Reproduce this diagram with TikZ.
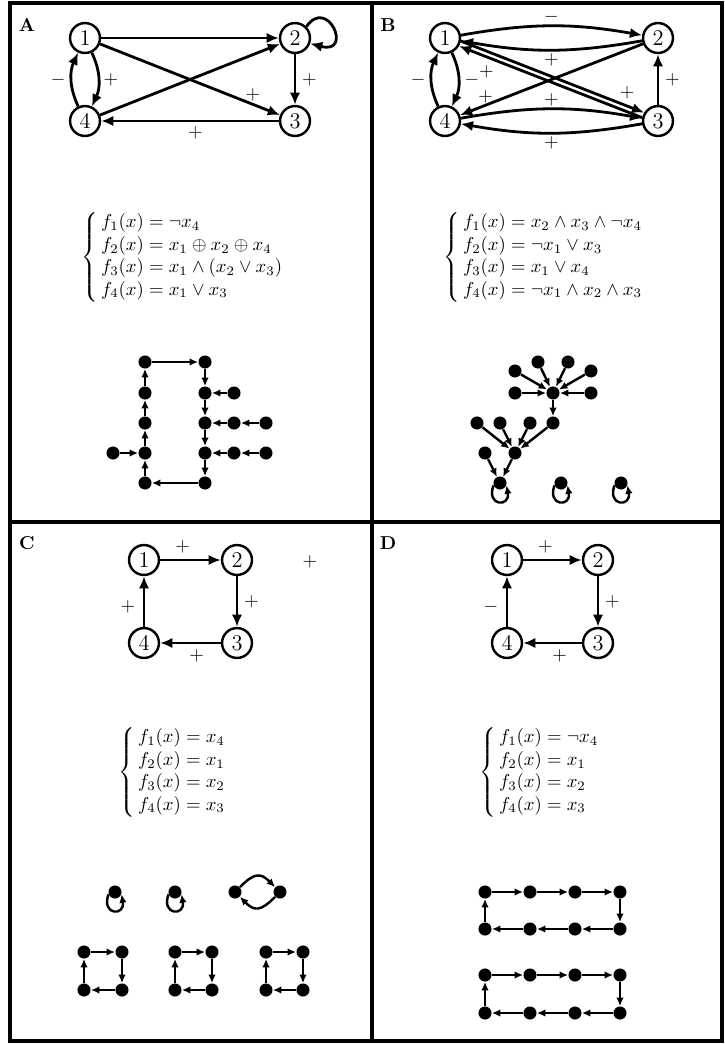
\documentclass[tikz,border=0pt]{standalone}
\usepackage{amsmath}
\usetikzlibrary{arrows.meta}
\tikzset{
 vnode/.style={circle, draw, line width=1.3pt, minimum size=16pt, inner sep=0pt, font=\large},
 gedge/.style={line width=1.5pt, -{Latex[length=6.5pt,width=5.5pt]}},
 lab/.style={inner sep=1pt, font=\normalsize},
 dot/.style={circle, fill, inner sep=0pt, minimum size=7pt},
 sedge/.style={line width=1.3pt, -{Latex[length=4.5pt,width=4pt]}},
 frame/.style={line width=1.7pt},
 eqn/.style={inner sep=0pt, anchor=west},
 plabel/.style={font=\bfseries, inner sep=0pt}
}
\begin{document}
\begin{tikzpicture}[x=0.535pt,y=0.535pt]
\useasboundingbox (0,0) rectangle (725,-1044);
% frame
\draw[frame] (10,-3) rectangle (722,-1041);
\draw[frame] (372,-3) -- (372,-1041);
\draw[frame] (10,-522) -- (722,-522);
% panel labels
\node[plabel] (pA) at (27,-25) {A};
\node[plabel] (pB) at (388,-25) {B};
\node[plabel] (pC) at (27,-543) {C};
\node[plabel] (pD) at (388,-543) {D};

% ---------- A ----------
\node[vnode] (a1) at (85,-38) {1};
\node[vnode] (a2) at (295,-38) {2};
\node[vnode] (a3) at (295,-121) {3};
\node[vnode] (a4) at (85,-121) {4};
\draw[gedge] (a1) -- (a2);
\draw[gedge] (a4) -- (a2);
\draw[gedge] (a1) -- (a3) node[lab,pos=0.85,above] {$+$};
\draw[gedge] (a2) -- (a3) node[lab,pos=0.5,right=2pt] {$+$};
\draw[gedge] (a3) -- (a4) node[lab,pos=0.47,below=1.5pt] {$+$};
\draw[gedge] (a1) to[bend left=25] node[lab,right=1pt] {$+$} (a4);
\draw[gedge] (a4) to[bend left=25] node[lab,left=1.5pt] {$-$} (a1);
\draw[gedge] (a2.45) .. controls +(55:20pt) and +(-15:24pt) .. (a2.-20);

\node[eqn] (eA) at (81,-257) {$\left\{\begin{array}{@{\,}l@{}}
 f_1(x) = \neg x_4\\
 f_2(x) = x_1 \oplus x_2 \oplus x_4\\
 f_3(x) = x_1 \wedge (x_2 \vee x_3)\\
 f_4(x) = x_1 \vee x_3
 \end{array}\right.$};

\foreach \n/\x/\y in {la1/145/362, la2/145/393, la3/145/423, la4/145/453, la5/145/483,
  ra1/205/362, ra2/205/393, ra3/205/423, ra4/205/453, ra5/205/483,
  xa1/113/453, xa2/234/393, xa3/234/423, xa4/266/423, xa5/234/453, xa6/266/453}
  \node[dot] (\n) at (\x,-\y) {};
\foreach \s/\t in {la1/ra1, ra1/ra2, ra2/ra3, ra3/ra4, ra4/ra5, ra5/la5, la5/la4, la4/la3,
  la3/la2, la2/la1, xa1/la4, xa2/ra2, xa3/ra3, xa4/xa3, xa5/ra4, xa6/xa5}
  \draw[sedge] (\s) -- (\t);

% ---------- B ----------
\node[vnode] (b1) at (445,-38) {1};
\node[vnode] (b2) at (658,-38) {2};
\node[vnode] (b3) at (658,-121) {3};
\node[vnode] (b4) at (445,-121) {4};
\draw[gedge] (b1) to[bend left=10] node[lab,above] {$-$} (b2);
\draw[gedge] (b2) to[bend left=10] node[lab,below] {$+$} (b1);
\draw[gedge] (b1.-11.7) -- (b3.149.1) node[lab,pos=0.85,above right] {$+$};
\draw[gedge] (b3.168.3) -- (b1.-30.9) node[lab,pos=0.85,below=3pt] {$+$};
\draw[gedge] (b2) -- (b4) node[lab,pos=0.86,above=-0.5pt] {$+$};
\draw[gedge] (b1) to[bend left=25] node[lab,right=1.5pt] {$-$} (b4);
\draw[gedge] (b4) to[bend left=25] node[lab,left=1.5pt] {$-$} (b1);
\draw[gedge] (b3) -- (b2) node[lab,pos=0.5,right=2pt] {$+$};
\draw[gedge] (b4) to[bend left=10] node[lab,above] {$+$} (b3);
\draw[gedge] (b3) to[bend left=10] node[lab,below] {$+$} (b4);

\node[eqn] (eB) at (443,-257) {$\left\{\begin{array}{@{\,}l@{}}
 f_1(x) = x_2 \wedge x_3 \wedge \neg x_4\\
 f_2(x) = \neg x_1 \vee x_3\\
 f_3(x) = x_1 \vee x_4\\
 f_4(x) = \neg x_1 \wedge x_2 \wedge x_3
 \end{array}\right.$};

\foreach \n/\x/\y in {h1/553/393, h2/553/423, h3/515/453, h4/500/483,
  l1/515/371, l2/538/362, l3/568/362, l4/591/371, l5/515/393, l6/591/393,
  m1/477/423, m2/500/423, m3/530/423, n1/485/453, s1/561/483, s2/621/483}
  \node[dot] (\n) at (\x,-\y) {};
\foreach \s/\t in {l1/h1, l2/h1, l3/h1, l4/h1, l5/h1, l6/h1, h1/h2,
  m1/h3, m2/h3, m3/h3, h2/h3, n1/h4, h3/h4}
  \draw[sedge] (\s) -- (\t);

% ---------- C ----------
\node[vnode] (c1) at (144,-560) {1};
\node[vnode] (c2) at (237,-560) {2};
\node[vnode] (c3) at (237,-643) {3};
\node[vnode] (c4) at (144,-643) {4};
\draw[gedge] (c1) -- (c2) node[lab,pos=0.37,above=2pt] {$+$};
\draw[gedge] (c2) -- (c3) node[lab,pos=0.5,right=2pt] {$+$};
\draw[gedge] (c3) -- (c4) node[lab,pos=0.4,below=2pt] {$+$};
\draw[gedge] (c4) -- (c1) node[lab,pos=0.4,left=3pt] {$+$};
\node[lab] (cx) at (310,-562) {$+$};

\node[eqn] (eC) at (118,-772) {$\left\{\begin{array}{@{\,}l@{}}
 f_1(x) = x_4\\
 f_2(x) = x_1\\
 f_3(x) = x_2\\
 f_4(x) = x_3
 \end{array}\right.$};

\foreach \n/\x/\y in {cl1/115/892, cl2/175/892, cp1/235/892, cp2/280/892,
  qa1/84/952, qa2/122/952, qa3/122/990, qa4/84/990,
  qb1/175/952, qb2/212/952, qb3/212/990, qb4/175/990,
  qc1/266/952, qc2/303/952, qc3/303/990, qc4/266/990}
  \node[dot] (\n) at (\x,-\y) {};
\foreach \q in {qa,qb,qc}{
  \draw[sedge] (\q1) -- (\q2);
  \draw[sedge] (\q2) -- (\q3);
  \draw[sedge] (\q3) -- (\q4);
  \draw[sedge] (\q4) -- (\q1);
}
\draw[sedge] (cp1) to[bend left=45,looseness=1.5] (cp2);
\draw[sedge] (cp2) to[bend left=45,looseness=1.5] (cp1);
\foreach \n in {h4,s1,s2,cl1,cl2}
  \draw[sedge] (\n.200) .. controls +(250:12pt) and +(-80:12pt) .. (\n.-20);

% ---------- D ----------
\node[vnode] (d1) at (507,-560) {1};
\node[vnode] (d2) at (598,-560) {2};
\node[vnode] (d3) at (598,-643) {3};
\node[vnode] (d4) at (507,-643) {4};
\draw[gedge] (d1) -- (d2) node[lab,pos=0.38,above=2pt] {$+$};
\draw[gedge] (d2) -- (d3) node[lab,pos=0.5,right=2pt] {$+$};
\draw[gedge] (d3) -- (d4) node[lab,pos=0.38,below=2pt] {$+$};
\draw[gedge] (d4) -- (d1) node[lab,pos=0.4,left=3pt] {$-$};

\node[eqn] (eD) at (479,-772) {$\left\{\begin{array}{@{\,}l@{}}
 f_1(x) = \neg x_4\\
 f_2(x) = x_1\\
 f_3(x) = x_2\\
 f_4(x) = x_3
 \end{array}\right.$};

\foreach \n/\x/\y in {da1/485/892, da2/530/892, da3/575/892, da4/620/892,
  da5/620/929, da6/575/929, da7/530/929, da8/485/929,
  db1/485/975, db2/530/975, db3/575/975, db4/620/975,
  db5/620/1013, db6/575/1013, db7/530/1013, db8/485/1013}
  \node[dot] (\n) at (\x,-\y) {};
\foreach \r in {da,db}{
  \foreach \i/\j in {1/2,2/3,3/4,4/5,5/6,6/7,7/8,8/1}
    \draw[sedge] (\r\i) -- (\r\j);
}
\end{tikzpicture}
\end{document}
